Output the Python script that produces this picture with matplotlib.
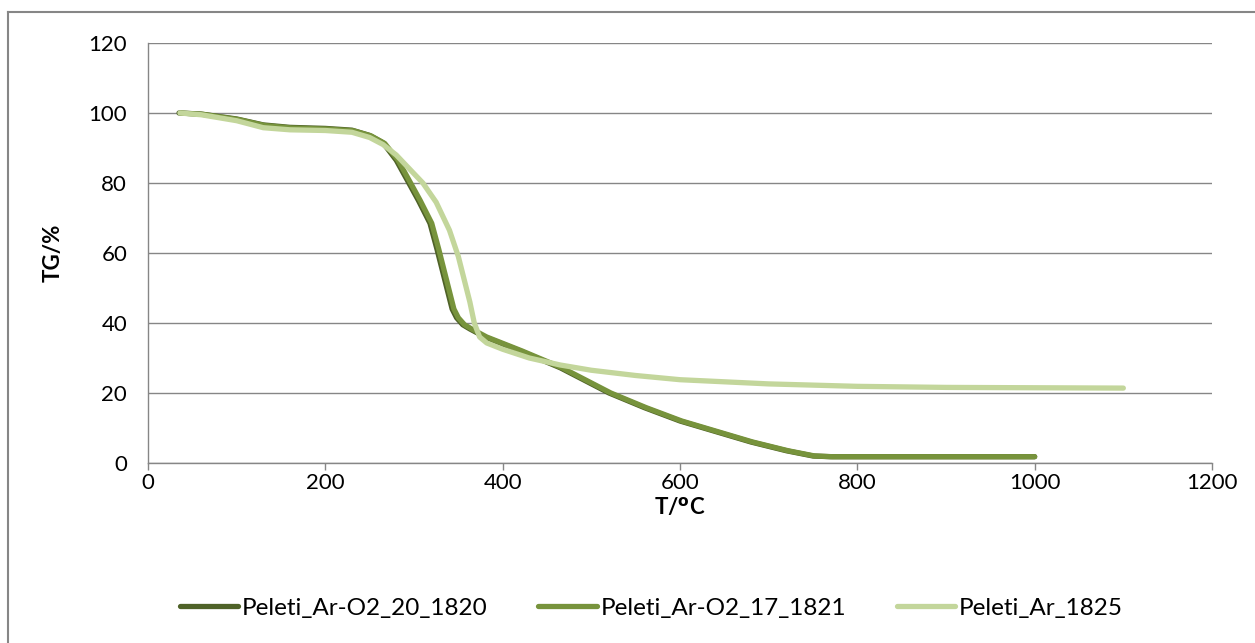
import matplotlib
matplotlib.use("Agg")
import matplotlib.pyplot as plt
from matplotlib.lines import Line2D

plt.rcParams['font.family'] = ['Lato', 'DejaVu Sans']

series_names = ["Peleti_Ar-O2_20_1820", "Peleti_Ar-O2_17_1821", "Peleti_Ar_1825"]
colors = ["#4F6228", "#77933C", "#C3D69B"]

t_1820 = [35, 60, 100, 130, 160, 200, 230, 250, 265, 280, 292, 305, 318, 326, 333, 338, 343,
          348, 355, 363, 380, 420, 465, 520, 560, 600, 640, 680, 720, 750, 770, 1000]
tg_1820 = [100, 99.7, 98.3, 96.6, 95.9, 95.6, 95.1, 93.6, 91.5, 86.5, 81, 75, 68.5, 61, 54, 49, 44,
           41.5, 39.5, 38.3, 36, 32, 27.2, 20, 15.8, 12, 9, 6, 3.5, 2, 1.8, 1.8]

t_1821 = [37, 62, 102, 132, 162, 202, 232, 252, 267, 282, 294, 307, 320, 328, 335, 340, 345,
          350, 357, 365, 382, 422, 467, 522, 562, 602, 642, 682, 722, 752, 772, 1000]
tg_1821 = [100, 99.6, 98.1, 96.4, 95.7, 95.4, 94.9, 93.4, 91.3, 86.5, 81, 75, 68.5, 61, 54, 49, 44,
           41.5, 39.5, 38.3, 36, 32, 27.2, 20, 15.8, 12, 9, 6, 3.5, 2, 1.8, 1.8]

t_1825 = [36, 60, 100, 130, 160, 200, 230, 250, 265, 280, 295, 310, 325, 340, 350, 358, 363,
          368, 374, 382, 400, 430, 465, 500, 550, 600, 650, 700, 800, 900, 1000, 1100]
tg_1825 = [100, 99.5, 97.8, 95.8, 95.2, 95, 94.5, 93, 91, 88, 84, 80, 74.5, 66.5, 59, 51, 46,
           40, 36, 34.3, 32.5, 30, 28, 26.5, 25, 23.8, 23.2, 22.6, 21.9, 21.6, 21.5, 21.4]

xticks = [0, 200, 400, 600, 800, 1000, 1200]
yticks = [0, 20, 40, 60, 80, 100, 120]

FS = 16

fig = plt.figure(figsize=(12.55, 6.43), dpi=100)
W, H = 1255, 643
fig.add_artist(Line2D([8/W, 1.0], [1 - 12/H, 1 - 12/H], transform=fig.transFigure,
                      color="#868686", linewidth=1.5))
fig.add_artist(Line2D([8/W, 8/W], [0.0, 1 - 12/H], transform=fig.transFigure,
                      color="#868686", linewidth=1.5))
ax = fig.add_axes([148/W, 180/H, 1064/W, 420/H])

for t, tg, c, n in zip([t_1820, t_1821, t_1825], [tg_1820, tg_1821, tg_1825], colors, series_names):
    ax.plot(t, tg, color=c, linewidth=3.8, solid_capstyle='round', solid_joinstyle='round', label=n)

ax.set_xlim(0, 1200)
ax.set_ylim(0, 120)
ax.set_xticks(xticks)
ax.set_yticks(yticks)
ax.grid(axis='y', color='#868686', linewidth=1)
ax.set_axisbelow(True)
for s in ['top', 'right']:
    ax.spines[s].set_visible(False)
for s in ['left', 'bottom']:
    ax.spines[s].set_color('#868686')
    ax.spines[s].set_linewidth(1)
ax.tick_params(axis='both', colors='#868686', labelcolor='black', labelsize=FS, length=5, width=1)
ax.tick_params(axis='x', pad=2)
ax.tick_params(axis='y', pad=15, length=0)

ax.set_xlabel(r'T/$^{\mathbf{o}}$C', fontsize=FS, fontweight='bold', labelpad=2)
ax.set_ylabel('TG/%', fontsize=FS, fontweight='bold', labelpad=18)

fig.legend(loc='center', bbox_to_anchor=(0.519, 1 - 608/H), ncol=3, frameon=False,
           fontsize=17.5, handlelength=2.4, handletextpad=0.15, columnspacing=2.1)

fig.savefig("out.png", dpi=100)
